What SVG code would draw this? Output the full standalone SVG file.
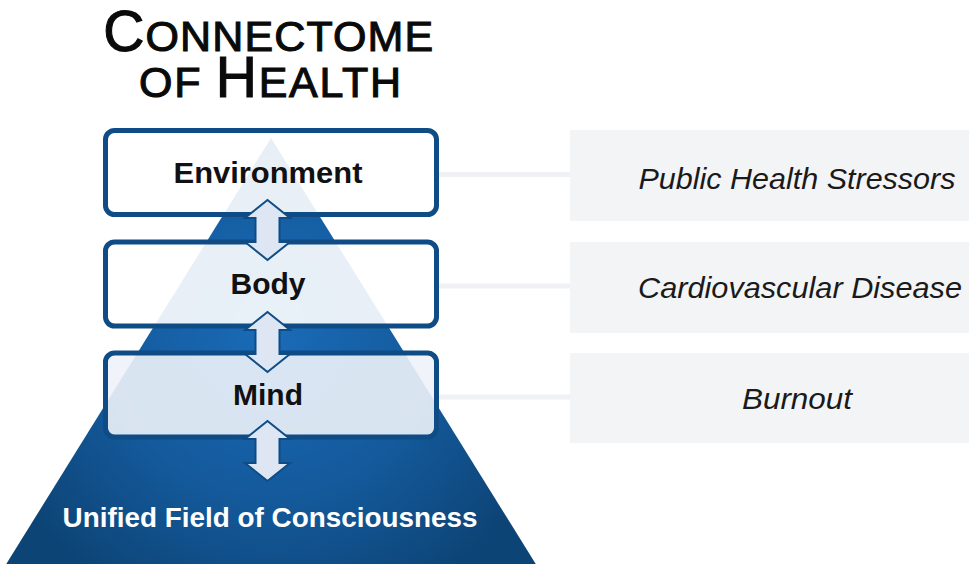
<svg xmlns="http://www.w3.org/2000/svg" width="969" height="564" viewBox="0 0 969 564">
  <defs>
    <radialGradient id="pyrFill" cx="270" cy="330" r="300" gradientUnits="userSpaceOnUse">
      <stop offset="0" stop-color="#1a6bb8"/>
      <stop offset="0.55" stop-color="#145a9c"/>
      <stop offset="1" stop-color="#0d4476"/>
    </radialGradient>
    <path id="dblArrow" d="M0,0 L22.5,18 L12,18 L12,42 L22.5,42 L0,60 L-22.5,42 L-12,42 L-12,18 L-22.5,18 Z"/>
    <style>
      .title { font-family: "Liberation Sans", Arial, sans-serif; font-weight: normal; fill: #0a0a0a; stroke: #0a0a0a; stroke-width: 1.1px; text-anchor: middle; }
      .layer { fill: #ffffff; fill-opacity: 0.9; stroke: #0f4c85; stroke-width: 5; }
      .layer-label { font-family: "Liberation Sans", Arial, sans-serif; font-weight: bold; font-size: 30px; fill: #111111; text-anchor: middle; }
      .panel { fill: #f3f4f6; }
      .panel-label { font-family: "Liberation Sans", Arial, sans-serif; font-style: italic; font-size: 30px; fill: #1a1a1a; text-anchor: middle; }
      .link { stroke: #eff1f4; stroke-width: 5; }
      .arrow { fill: #dde6f2; stroke: #0f4c85; stroke-width: 2; stroke-linejoin: miter; }
      .base-label { font-family: "Liberation Sans", Arial, sans-serif; font-weight: bold; font-size: 28px; fill: #ffffff; text-anchor: middle; }
    </style>
  </defs>

  <rect width="969" height="564" fill="#ffffff"/>

  <!-- heading in small caps, two lines -->
  <g id="title">
    <text class="title">
      <tspan x="271" y="51" textLength="330" lengthAdjust="spacing"><tspan font-size="57">C</tspan><tspan font-size="43">ONNECTOME</tspan></tspan>
      <tspan x="270" y="97" textLength="262" lengthAdjust="spacing"><tspan font-size="43">OF </tspan><tspan font-size="57">H</tspan><tspan font-size="43">EALTH</tspan></tspan>
    </text>
  </g>

  <!-- foundation pyramid -->
  <g id="foundation">
    <polygon points="271,138 537,566 5,566" fill="url(#pyrFill)"/>
    <text class="base-label" x="270" y="527" textLength="415" lengthAdjust="spacingAndGlyphs">Unified Field of Consciousness</text>
  </g>

  <!-- links from layers to outcomes -->
  <g id="connectors">
    <line class="link" x1="439" y1="174.5" x2="570" y2="174.5"/>
    <line class="link" x1="439" y1="286" x2="570" y2="286"/>
    <line class="link" x1="439" y1="397" x2="570" y2="397"/>
  </g>

  <g id="environment">
    <rect class="layer" x="105.5" y="130.5" width="331" height="84" rx="9"/>
    <text class="layer-label" x="268" y="183" textLength="189" lengthAdjust="spacingAndGlyphs">Environment</text>
  </g>
  <g id="body">
    <rect class="layer" x="105.5" y="242" width="331" height="84" rx="9"/>
    <text class="layer-label" x="268" y="294">Body</text>
  </g>
  <g id="mind">
    <rect class="layer" x="105.5" y="353" width="331" height="84" rx="9" style="fill:#eef3f9"/>
    <text class="layer-label" x="268" y="405">Mind</text>
  </g>

  <!-- two-way arrows between layers -->
  <g id="arrows">
    <use href="#dblArrow" class="arrow" x="267.5" y="200"/>
    <use href="#dblArrow" class="arrow" x="267.5" y="312"/>
    <use href="#dblArrow" class="arrow" x="267.5" y="421"/>
  </g>

  <g id="public-health">
    <rect class="panel" x="570" y="130" width="399" height="91"/>
    <text class="panel-label" x="797" y="189" textLength="317" lengthAdjust="spacingAndGlyphs">Public Health Stressors</text>
  </g>
  <g id="cardiovascular">
    <rect class="panel" x="570" y="242" width="399" height="91"/>
    <text class="panel-label" x="800" y="298" textLength="324" lengthAdjust="spacingAndGlyphs">Cardiovascular Disease</text>
  </g>
  <g id="burnout">
    <rect class="panel" x="570" y="353" width="399" height="90"/>
    <text class="panel-label" x="797" y="409" textLength="110" lengthAdjust="spacingAndGlyphs">Burnout</text>
  </g>
</svg>
